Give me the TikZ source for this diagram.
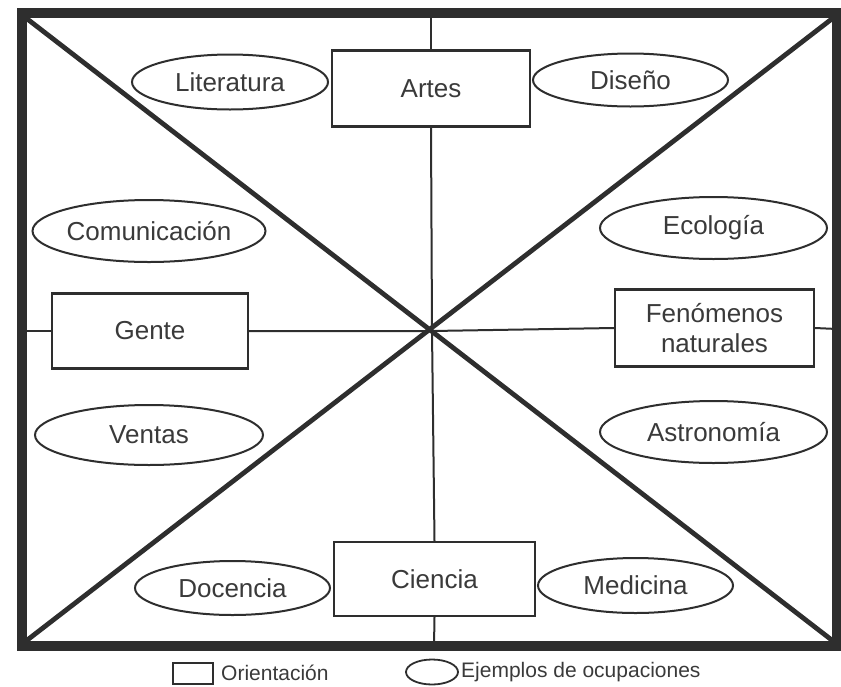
\documentclass[tikz,border=0pt]{standalone}
\usepackage{fontspec}
\setmainfont{Liberation Sans}
\usetikzlibrary{shapes.geometric}
\definecolor{ink}{HTML}{2E2E2E}
\definecolor{txt}{HTML}{3A3A3A}
\tikzset{
  orient/.style={draw=ink, line width=2.2pt, fill=white, rectangle, inner sep=0pt,
    minimum width=198pt, minimum height=76pt, text=txt, align=center,
    font=\fontsize{26}{30}\selectfont},
  ocup/.style={draw=ink, line width=2pt, fill=white, ellipse, inner sep=0pt,
    text=txt, font=\fontsize{26}{30}\selectfont},
  thinline/.style={draw=ink, line width=2pt},
  diag/.style={draw=ink, line width=4.8pt},
  frameline/.style={draw=ink, line width=9.5pt},
  legtext/.style={text=txt, inner sep=0pt, anchor=west, font=\fontsize{21}{24}\selectfont},
}
\begin{document}
\begin{tikzpicture}[x=1pt,y=-1pt]
\useasboundingbox (0,0) rectangle (841,686);
% frame corners (line centres) and inner corners
\coordinate (ftl) at (22,13);
\coordinate (fbr) at (837,646);
\coordinate (itl) at (26,18);
\coordinate (itr) at (833,18);
\coordinate (ibl) at (26,641);
\coordinate (ibr) at (833,641);
\coordinate (c) at (432,331);
% diagonals
\draw[diag] (itl) -- (ibr);
\draw[diag] (itr) -- (ibl);
% orientation boxes
\node[orient] (artes) at (431,88.5) {Artes};
\node[orient, minimum width=196pt, minimum height=75pt] (gente) at (150,331) {Gente};
\node[orient, minimum width=199pt, minimum height=77pt] (fen) at (714.5,328) {Fenómenos\\naturales};
\node[orient, minimum width=201pt, minimum height=74pt] (ciencia) at (434.5,579) {Ciencia};
% axis lines
\coordinate (ltop) at (431,13);
\coordinate (lbot) at (434,646);
\coordinate (lleft) at (22,331);
\coordinate (lright) at (837,329);
\draw[thinline] (ltop) -- (artes.north);
\draw[thinline] (artes.south) -- (c) -- (ciencia.north);
\draw[thinline] (ciencia.south) -- (lbot);
\draw[thinline] (lleft) -- (gente.west);
\draw[thinline] (gente.east) -- (c) -- (fen.west);
\draw[thinline] (fen.east) -- (lright);
% occupations
\node[ocup, minimum width=196pt, minimum height=55pt] (lit) at (230,82) {Literatura};
\node[ocup, minimum width=195pt, minimum height=53pt] (dis) at (630.5,80) {Diseño};
\node[ocup, minimum width=228pt, minimum height=62pt] (com) at (149,231) {Comunicación};
\node[ocup, minimum width=228pt, minimum height=60pt] (ven) at (149,435) {Ventas};
\node[ocup, minimum width=227pt, minimum height=62pt] (eco) at (713.5,228) {Ecología};
\node[ocup, minimum width=227pt, minimum height=62pt] (ast) at (713.5,432) {Astronomía};
\node[ocup, minimum width=195pt, minimum height=54pt] (doc) at (232.5,588) {Docencia};
\node[ocup, minimum width=195pt, minimum height=55pt] (med) at (635.5,585.5) {Medicina};
% frame
\draw[frameline] (ftl) rectangle (fbr);
% legend
\node[draw=ink, line width=1.8pt, rectangle, inner sep=0pt, minimum width=40pt, minimum height=21pt] (legbox) at (193,673.5) {};
\node[legtext] (legbt) at (221,673) {Orientación};
\node[draw=ink, line width=1.8pt, ellipse, inner sep=0pt, minimum width=52pt, minimum height=25pt] (legell) at (432,672) {};
\node[legtext] (leget) at (461,672) {Ejemplos de ocupaciones};
\end{tikzpicture}
\end{document}
